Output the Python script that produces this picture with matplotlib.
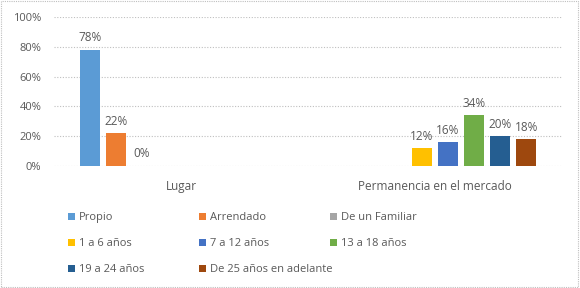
import matplotlib
matplotlib.use("Agg")
import matplotlib.pyplot as plt
import numpy as np
from matplotlib.patches import Rectangle

categories = ["Lugar", "Permanencia en el mercado"]
series = ["Propio", "Arrendado", "De un Familiar", "1 a 6 años", "7 a 12 años",
          "13 a 18 años", "19 a 24 años", "De 25 años en adelante"]
values = [
    [0.78, np.nan],
    [0.22, np.nan],
    [0.00, np.nan],
    [np.nan, 0.12],
    [np.nan, 0.16],
    [np.nan, 0.34],
    [np.nan, 0.20],
    [np.nan, 0.18],
]
colors = ["#5B9BD5", "#ED7D31", "#A5A5A5", "#FFC000", "#4472C4",
          "#70AD47", "#255E91", "#9E480E"]
yticks = [0, 0.2, 0.4, 0.6, 0.8, 1.0]
ytick_labels = ["0%", "20%", "40%", "60%", "80%", "100%"]

plt.rcParams['font.family'] = ['Open Sans', 'DejaVu Sans']
txt = "#595959"

fig = plt.figure(figsize=(5.8, 2.88), dpi=100)
ax = fig.add_axes([54/580, 1-166/288, (562-54)/580, (166-17)/288])

n = len(series)
cluster = 0.82
slot = cluster / n
bw = slot * 0.79
x = np.arange(len(categories))
handles = []
for i, (name, vals, c) in enumerate(zip(series, values, colors)):
    pos = x - cluster/2 + slot*(i+0.5)
    bars = ax.bar(pos, vals, width=bw, color=c, label=name, zorder=3)
    labels = ["" if np.isnan(v) else f"{v*100:.0f}%" for v in vals]
    ax.bar_label(bars, labels=labels, padding=4, fontsize=8.5, color=txt)
    handles.append(bars)

ax.set_xlim(-0.5, 1.5)
ax.set_ylim(0, 1.0)
ax.set_yticks(yticks)
ax.set_yticklabels(ytick_labels)
ax.set_xticks(x)
ax.set_xticklabels(categories, fontsize=8.5)
ax.tick_params(axis='y', length=0, labelsize=8, labelcolor=txt, pad=9)
ax.tick_params(axis='x', length=0, labelcolor=txt, pad=10)
ax.yaxis.grid(True, linestyle=(0, (1, 1.5)), color="#BFBFBF", linewidth=0.8, zorder=0)
for s in ["top", "right", "left", "bottom"]:
    ax.spines[s].set_visible(False)

# legends: three columns, row-major order like Excel
cols = [[0, 3, 6], [1, 4, 7], [2, 5]]
xs = [68, 199, 330]
for col, xp in zip(cols, xs):
    leg = fig.legend([handles[i] for i in col], [series[i] for i in col],
                     loc="upper left", bbox_to_anchor=(xp/580, 1-212/288),
                     frameon=False, fontsize=8, handlelength=0.6, handleheight=0.6,
                     handletextpad=0.4, labelspacing=1.35, borderpad=0, borderaxespad=0)
    for t in leg.get_texts():
        t.set_color(txt)

fig.patches.append(Rectangle((0.002, 0.003), 0.995, 0.993, transform=fig.transFigure,
                             fill=False, edgecolor="#BFBFBF", linewidth=0.8,
                             linestyle=(0, (1, 1))))

fig.savefig("out.png", dpi=100)
